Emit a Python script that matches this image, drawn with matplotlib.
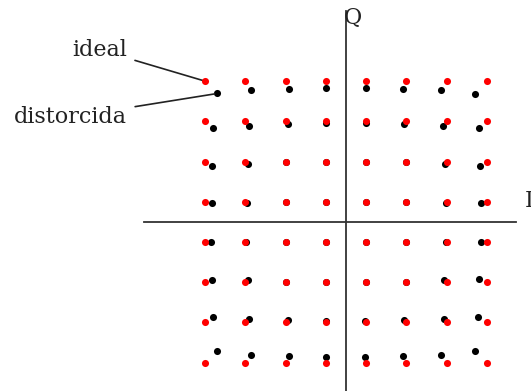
import numpy as np
import matplotlib
matplotlib.use("Agg")
import matplotlib.pyplot as plt

# 64-QAM constellation: ideal grid levels
levels = [-7, -5, -3, -1, 1, 3, 5, 7]
rows_q = [7, 5, 3, 1, -1, -3, -5, -7]

# Distorted (compressed) constellation, row by row (Q = 7 ... -7), columns I = -7 ... 7
dist_i = [
    [-6.40, -4.73, -2.84, -0.99, 0.97, 2.84, 4.71, 6.42],
    [-6.60, -4.84, -2.87, -0.98, 0.98, 2.87, 4.84, 6.60],
    [-6.65, -4.89, -2.97, -1.00, 1.00, 2.97, 4.92, 6.68],
    [-6.68, -4.94, -3.00, -1.00, 1.00, 3.00, 4.95, 6.72],
    [-6.70, -4.96, -3.00, -1.00, 1.00, 3.00, 4.96, 6.72],
    [-6.65, -4.89, -2.97, -1.00, 1.00, 2.97, 4.89, 6.63],
    [-6.60, -4.84, -2.89, -0.98, 0.95, 2.87, 4.86, 6.58],
    [-6.40, -4.73, -2.84, -1.00, 0.96, 2.84, 4.71, 6.40],
]
dist_q = [
    [6.39, 6.56, 6.62, 6.68, 6.68, 6.60, 6.55, 6.38],
    [4.69, 4.79, 4.86, 4.91, 4.91, 4.86, 4.79, 4.69],
    [2.80, 2.87, 2.97, 3.00, 3.00, 2.97, 2.87, 2.80],
    [0.93, 0.93, 1.00, 1.00, 1.00, 1.00, 0.93, 0.93],
    [-1.01, -1.01, -1.00, -1.00, -1.00, -1.00, -1.01, -1.01],
    [-2.87, -2.90, -2.97, -3.00, -3.00, -2.97, -2.90, -2.85],
    [-4.74, -4.81, -4.88, -4.91, -4.91, -4.88, -4.81, -4.74],
    [-6.42, -6.62, -6.67, -6.72, -6.71, -6.67, -6.62, -6.42],
]

label_ideal = "ideal"
label_dist = "distorcida"
axis_labels = ("I", "Q")

ideal_i, ideal_q = np.meshgrid(levels, rows_q)

fig = plt.figure(figsize=(5.31, 3.91), dpi=100)
ax = fig.add_axes([0, 0, 1, 1])
ax.set_xlim(-17.21, 9.20)
ax.set_ylim(-8.41, 11.04)
ax.axis("off")

font = dict(family="DejaVu Serif", size=16, color="#222222")

# I/Q axes
ax.plot([-10.05, 8.46], [0, 0], color="#333333", lw=1.3, zorder=1)
ax.plot([0, 0], [-8.41, 10.5], color="#333333", lw=1.3, zorder=1)
ax.text(-0.1, 10.15, axis_labels[1], ha="left", va="center", **font)
ax.text(8.91, 1.04, axis_labels[0], ha="left", va="center", **font)

# distorted symbols underneath, ideal symbols on top
ax.scatter(np.ravel(dist_i), np.ravel(dist_q), s=26, color="#000000",
           linewidths=0, zorder=3)
ax.scatter(ideal_i.ravel(), ideal_q.ravel(), s=26, color="#ff0000",
           linewidths=0, zorder=4)

arrow = dict(arrowstyle="-", color="#222222", lw=1.2, shrinkA=4, shrinkB=2)
ax.annotate(label_ideal, xy=(ideal_i[0, 0], ideal_q[0, 0]),
            xytext=(-10.9, 8.56), ha="right", va="center",
            arrowprops=arrow, **font)
ax.annotate(label_dist, xy=(dist_i[0][0], dist_q[0][0]),
            xytext=(-10.9, 5.22), ha="right", va="center",
            arrowprops=arrow, **font)

fig.savefig("out.png", dpi=100)
